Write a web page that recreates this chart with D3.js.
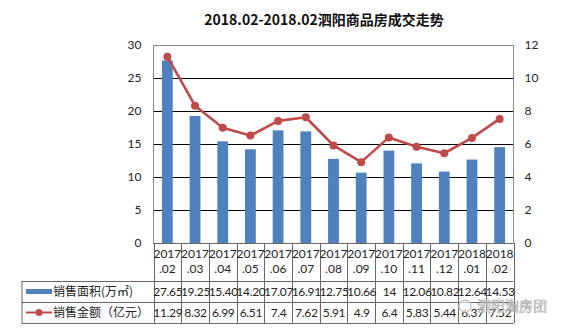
<!DOCTYPE html>
<html>
<head>
<meta charset="utf-8">
<script src="https://cdn.jsdelivr.net/npm/d3@7"></script>
<style>
  html, body { margin: 0; padding: 0; background: #fff; }
  svg { display: block; }
  text { font-family: "Lato", "Noto Sans CJK SC", sans-serif; fill: #222; }
</style>
</head>
<body>
<svg id="chart" width="568" height="333"></svg>
<script>
// Monthly sales for Siyang commercial housing
const months = ["2017.02","2017.03","2017.04","2017.05","2017.06","2017.07","2017.08","2017.09","2017.10","2017.11","2017.12","2018.01","2018.02"];
const areaValues = [27.65, 19.25, 15.40, 14.20, 17.07, 16.91, 12.75, 10.66, 14, 12.06, 10.82, 12.64, 14.53];
const areaLabels = ["27.65","19.25","15.40","14.20","17.07","16.91","12.75","10.66","14","12.06","10.82","12.64","14.53"];
const amountValues = [11.29, 8.32, 6.99, 6.51, 7.4, 7.62, 5.91, 4.9, 6.4, 5.83, 5.44, 6.37, 7.52];
const amountLabels = ["11.29","8.32","6.99","6.51","7.4","7.62","5.91","4.9","6.4","5.83","5.44","6.37","7.52"];
const leftTicks = [0, 5, 10, 15, 20, 25, 30];
const rightTicks = [0, 2, 4, 6, 8, 10, 12];
const seriesNames = ["销售面积(万㎡)", "销售金额（亿元）"];
const titleText = "2018.02-2018.02泗阳商品房成交走势";

const barColor = "#4F81BD";
const lineColor = "#BE4B48";

const svg = d3.select("#chart");
const plot = { left: 153.5, right: 513.5, top: 45, bottom: 243 };
const tableRows = [243, 281, 302, 323];
const legendLeft = 21.5;

const x = d3.scaleBand().domain(months).range([plot.left, plot.right]).paddingInner(0.61).paddingOuter(0.305);
const xCol = d3.scaleBand().domain(months).range([plot.left, plot.right]);
const yL = d3.scaleLinear().domain([0, 30]).range([plot.bottom, plot.top]);
const yR = d3.scaleLinear().domain([0, 12]).range([plot.bottom, plot.top]);

// Title
svg.append("text")
  .attr("x", 324).attr("y", 25)
  .attr("text-anchor", "middle")
  .style("font-family", "'Noto Sans CJK SC', sans-serif")
  .style("font-weight", "bold")
  .style("font-size", "14px")
  .style("fill", "#111")
  .text(titleText);

// Gridlines
svg.append("g")
  .selectAll("line")
  .data(leftTicks.filter(t => t > 0 && t < 30))
  .join("line")
  .attr("x1", plot.left).attr("x2", plot.right)
  .attr("y1", d => Math.round(yL(d)) + 0.5).attr("y2", d => Math.round(yL(d)) + 0.5)
  .attr("stroke", "#000").attr("stroke-width", 1);

// Left axis
const leftAxis = svg.append("g")
  .attr("transform", `translate(${plot.left},0)`)
  .call(d3.axisLeft(yL).tickValues(leftTicks).tickSize(0).tickPadding(12));
leftAxis.select(".domain").remove();
leftAxis.selectAll("text").style("font-size", "12px").style("font-family", "Lato, sans-serif").attr("fill", "#222");

// Right axis
const rightAxis = svg.append("g")
  .attr("transform", `translate(${plot.right},0)`)
  .call(d3.axisRight(yR).tickValues(rightTicks).tickSize(0).tickPadding(11));
rightAxis.select(".domain").remove();
rightAxis.selectAll("text").style("font-size", "12px").style("font-family", "Lato, sans-serif").attr("fill", "#222");

// Bars
svg.append("g")
  .selectAll("rect")
  .data(areaValues)
  .join("rect")
  .attr("x", (d, i) => x(months[i]))
  .attr("width", x.bandwidth())
  .attr("y", d => yL(d))
  .attr("height", d => yL(0) - yL(d))
  .attr("fill", barColor);

// Amount line
const line = d3.line()
  .x((d, i) => xCol(months[i]) + xCol.bandwidth() / 2)
  .y(d => yR(d));
svg.append("path")
  .datum(amountValues)
  .attr("d", line)
  .attr("fill", "none")
  .attr("stroke", lineColor)
  .attr("stroke-width", 2.6)
  .attr("stroke-linejoin", "round");
svg.append("g")
  .selectAll("circle")
  .data(amountValues)
  .join("circle")
  .attr("cx", (d, i) => xCol(months[i]) + xCol.bandwidth() / 2)
  .attr("cy", d => yR(d))
  .attr("r", 4)
  .attr("fill", lineColor);

// Plot frame
svg.append("rect")
  .attr("x", plot.left).attr("y", plot.top + 0.5)
  .attr("width", plot.right - plot.left).attr("height", plot.bottom - plot.top)
  .attr("fill", "none").attr("stroke", "#888").attr("stroke-width", 1);

// Data table grid
const grid = svg.append("g").attr("stroke", "#666").attr("stroke-width", 1);
const colEdges = months.map(m => xCol(m)).concat([plot.right]);
grid.selectAll("line.col")
  .data(colEdges)
  .join("line")
  .attr("class", "col")
  .attr("x1", d => Math.round(d) + 0.5).attr("x2", d => Math.round(d) + 0.5)
  .attr("y1", tableRows[0]).attr("y2", tableRows[3]);
grid.append("line").attr("x1", plot.left).attr("x2", plot.right).attr("y1", tableRows[0] + 0.5).attr("y2", tableRows[0] + 0.5);
[1, 2, 3].forEach(r => {
  grid.append("line")
    .attr("x1", legendLeft).attr("x2", plot.right)
    .attr("y1", tableRows[r] + 0.5).attr("y2", tableRows[r] + 0.5);
});
grid.append("line").attr("x1", legendLeft + 0.5).attr("x2", legendLeft + 0.5).attr("y1", tableRows[1]).attr("y2", tableRows[3]);

// Category labels (two lines each)
const cat = svg.append("g").selectAll("text")
  .data(months)
  .join("text")
  .attr("text-anchor", "middle")
  .style("font-size", "12px");
cat.append("tspan")
  .attr("x", m => xCol(m) + xCol.bandwidth() / 2)
  .attr("y", 258)
  .text(m => m.split(".")[0]);
cat.append("tspan")
  .attr("x", m => xCol(m) + xCol.bandwidth() / 2)
  .attr("y", 273)
  .text(m => "." + m.split(".")[1]);

// Value rows
const rowsData = [
  { labels: areaLabels, y: (tableRows[1] + tableRows[2]) / 2 },
  { labels: amountLabels, y: (tableRows[2] + tableRows[3]) / 2 }
];
rowsData.forEach(row => {
  svg.append("g").selectAll("text")
    .data(row.labels)
    .join("text")
    .attr("x", (d, i) => xCol(months[i]) + xCol.bandwidth() / 2 + 0.5)
    .attr("y", row.y)
    .attr("dy", "0.36em")
    .attr("text-anchor", "middle")
    .style("font-size", "12px")
    .style("letter-spacing", "-0.3px")
    .text(d => d);
});

// Legend keys inside the table
const leg = svg.append("g");
const ly1 = (tableRows[1] + tableRows[2]) / 2;
const ly2 = (tableRows[2] + tableRows[3]) / 2;
leg.append("rect").attr("x", 26).attr("y", ly1 - 2.5).attr("width", 26).attr("height", 5).attr("fill", barColor);
leg.append("line").attr("x1", 26).attr("x2", 52).attr("y1", ly2).attr("y2", ly2).attr("stroke", lineColor).attr("stroke-width", 2);
leg.append("circle").attr("cx", 39).attr("cy", ly2).attr("r", 3.5).attr("fill", lineColor);
leg.selectAll("text")
  .data(seriesNames)
  .join("text")
  .attr("x", 53)
  .attr("y", (d, i) => i === 0 ? ly1 : ly2)
  .attr("dy", "0.36em")
  .style("font-family", "'Noto Sans CJK SC', sans-serif")
  .style("font-size", "12px")
  .text(d => d);

// Account watermark
const wm = svg.append("g");
wm.append("circle").attr("cx", 465).attr("cy", 306).attr("r", 6)
  .attr("fill", "rgba(255,255,255,0.6)").attr("stroke", "#c8c8c8").attr("stroke-width", 1.5);
wm.append("text")
  .attr("x", 477).attr("y", 306).attr("dy", "0.36em")
  .style("font-family", "'Noto Sans CJK SC', sans-serif")
  .style("font-size", "14px")
  .style("fill", "rgba(255,255,255,0.85)")
  .style("stroke", "#a8a8a8").style("stroke-width", 0.6)
  .text("泗阳淘房团");
</script>
</body>
</html>
